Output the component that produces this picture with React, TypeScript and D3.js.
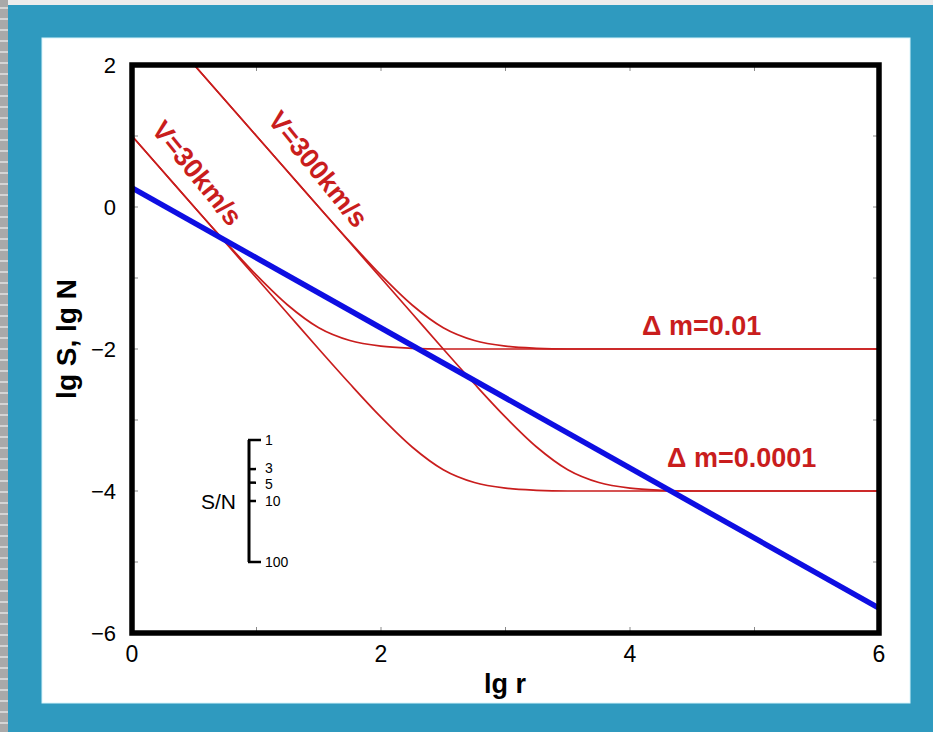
import React, { useEffect, useRef } from "react";
import * as d3 from "d3";

// lg r, lg S
const v30Dm01: [number, number][] = [
  [0, 1.0], [0.25, 0.5], [0.5, 0.0], [0.75, -0.49], [1, -0.96], [1.25, -1.38],
  [1.5, -1.7], [1.75, -1.88], [2, -1.96], [2.25, -1.99], [2.5, -2.0], [6, -2.0],
];
const v30Dm0001: [number, number][] = [
  [0, 1.0], [0.25, 0.5], [0.5, 0.0], [0.75, -0.5], [1, -1.0], [1.25, -1.5],
  [1.5, -2.0], [1.75, -2.49], [2, -2.96], [2.25, -3.38], [2.5, -3.7], [2.75, -3.88],
  [3, -3.96], [3.25, -3.99], [3.5, -4.0], [6, -4.0],
];
const v300Dm01: [number, number][] = [
  [0.5, 2.0], [0.75, 1.5], [1, 1.0], [1.25, 0.5], [1.5, 0.0], [1.75, -0.49],
  [2, -0.96], [2.25, -1.38], [2.5, -1.7], [2.75, -1.88], [3, -1.96], [3.25, -1.99],
  [3.5, -2.0], [6, -2.0],
];
const v300Dm0001: [number, number][] = [
  [0.5, 2.0], [0.75, 1.5], [1, 1.0], [1.25, 0.5], [1.5, 0.0], [1.75, -0.5],
  [2, -1.0], [2.25, -1.5], [2.5, -2.0], [2.75, -2.49], [3, -2.96], [3.25, -3.38],
  [3.5, -3.7], [3.75, -3.88], [4, -3.96], [4.25, -3.99], [4.5, -4.0], [6, -4.0],
];
const noiseLine: [number, number][] = [[0, 0.27], [6, -5.65]];

const xTicks = [0, 2, 4, 6];
const yTicks = [2, 0, -2, -4, -6];
const xMinor = [1, 2, 3, 4, 5];
const yMinor = [1, 0, -1, -2, -3, -4, -5];
const snTicks = [1, 3, 5, 10, 100];

const FONT = "'Liberation Sans', Arial, Helvetica, sans-serif";
const RED = "#c91d1d";

const App = () => {
  const ref = useRef<SVGSVGElement>(null);

  useEffect(() => {
    const svg = d3.select(ref.current);
    svg.selectAll("*").remove();

    // page background
    svg.append("rect").attr("width", 933).attr("height", 732).attr("fill", "#ececec");
    svg.append("rect").attr("x", 0).attr("y", 0).attr("width", 8).attr("height", 732).attr("fill", "#a9a9a9");
    svg
      .append("g")
      .selectAll("line")
      .data(d3.range(8, 732, 11))
      .enter()
      .append("line")
      .attr("x1", 0)
      .attr("x2", 8)
      .attr("y1", (d) => d)
      .attr("y2", (d) => d)
      .attr("stroke", "#ffffff")
      .attr("stroke-width", 1);
    svg.append("rect").attr("x", 8).attr("y", 5).attr("width", 925).attr("height", 727).attr("fill", "#2f9abf");
    svg.append("rect").attr("x", 42).attr("y", 38).attr("width", 868).attr("height", 665).attr("fill", "#ffffff").attr("stroke", "#d8f4fb").attr("stroke-width", 1);

    const x = d3.scaleLinear().domain([0, 6]).range([132, 879]);
    const y = d3.scaleLinear().domain([-6, 2]).range([633, 65]);

    svg
      .append("defs")
      .append("clipPath")
      .attr("id", "plot")
      .append("rect")
      .attr("x", x(0))
      .attr("y", y(2))
      .attr("width", x(6) - x(0))
      .attr("height", y(-6) - y(2));

    // minor inward ticks
    const ticks = svg.append("g").attr("stroke", "#8a8a8a").attr("stroke-width", 1);
    xMinor.forEach((v) => {
      ticks.append("line").attr("x1", x(v)).attr("x2", x(v)).attr("y1", y(-6)).attr("y2", y(-6) - 6);
      ticks.append("line").attr("x1", x(v)).attr("x2", x(v)).attr("y1", y(2)).attr("y2", y(2) + 6);
    });
    yMinor.forEach((v) => {
      ticks.append("line").attr("x1", x(0)).attr("x2", x(0) + 6).attr("y1", y(v)).attr("y2", y(v));
      ticks.append("line").attr("x1", x(6)).attr("x2", x(6) - 6).attr("y1", y(v)).attr("y2", y(v));
    });

    const line = d3
      .line<[number, number]>()
      .x((d) => x(d[0]))
      .y((d) => y(d[1]))
      .curve(d3.curveMonotoneX);

    const curves = svg.append("g").attr("clip-path", "url(#plot)");
    [v30Dm01, v30Dm0001, v300Dm01, v300Dm0001].forEach((c) => {
      curves
        .append("path")
        .attr("d", line(c))
        .attr("fill", "none")
        .attr("stroke", RED)
        .attr("stroke-width", 1.7);
    });
    curves
      .append("path")
      .attr("d", d3.line<[number, number]>().x((d) => x(d[0])).y((d) => y(d[1]))(noiseLine))
      .attr("fill", "none")
      .attr("stroke", "#0e0ee2")
      .attr("stroke-width", 5.5);

    // frame
    svg
      .append("rect")
      .attr("x", x(0))
      .attr("y", y(2))
      .attr("width", x(6) - x(0))
      .attr("height", y(-6) - y(2))
      .attr("fill", "none")
      .attr("stroke", "#000")
      .attr("stroke-width", 5.5);

    // tick labels
    svg
      .append("g")
      .selectAll("text")
      .data(xTicks)
      .enter()
      .append("text")
      .attr("x", (d) => x(d))
      .attr("y", 662)
      .attr("text-anchor", "middle")
      .attr("font-family", FONT)
      .attr("font-size", 23)
      .text((d) => d3.format("d")(d));
    svg
      .append("g")
      .selectAll("text")
      .data(yTicks)
      .enter()
      .append("text")
      .attr("x", 116)
      .attr("y", (d) => y(d) + 8)
      .attr("text-anchor", "end")
      .attr("font-family", FONT)
      .attr("font-size", 22)
      .text((d) => d3.format("d")(d));

    // axis titles
    svg
      .append("text")
      .attr("x", 505)
      .attr("y", 693)
      .attr("text-anchor", "middle")
      .attr("font-family", FONT)
      .attr("font-weight", "bold")
      .attr("font-size", 27)
      .text("lg r");
    svg
      .append("text")
      .attr("transform", "translate(76,339) rotate(-90)")
      .attr("text-anchor", "middle")
      .attr("font-family", FONT)
      .attr("font-weight", "bold")
      .attr("font-size", 28)
      .text("lg S, lg N");

    // curve labels
    const red = svg
      .append("g")
      .attr("fill", RED)
      .attr("font-family", FONT)
      .attr("font-weight", "bold")
      .attr("font-size", 27);
    red.append("text").attr("transform", "translate(190,179) rotate(51)").attr("text-anchor", "middle").text("V=30km/s");
    red.append("text").attr("transform", "translate(311,175) rotate(51)").attr("text-anchor", "middle").text("V=300km/s");
    red.append("text").attr("x", 642).attr("y", 335).text("\u0394 m=0.01");
    red.append("text").attr("x", 667).attr("y", 467).text("\u0394 m=0.0001");

    // S/N scale
    const sn = d3.scaleLog().domain([1, 100]).range([440, 562]);
    const g = svg.append("g").attr("stroke", "#000").attr("stroke-width", 3);
    g.append("line").attr("x1", 249).attr("x2", 249).attr("y1", sn(1)).attr("y2", sn(100));
    snTicks.forEach((v) => {
      const long = v === 1 || v === 100;
      g.append("line")
        .attr("x1", 248)
        .attr("x2", long ? 261 : 256)
        .attr("y1", sn(v))
        .attr("y2", sn(v))
        .attr("stroke-width", 2.5);
    });
    svg
      .append("g")
      .selectAll("text")
      .data(snTicks)
      .enter()
      .append("text")
      .attr("x", 265)
      .attr("y", (d) => sn(d) + 5 + (d === 3 ? -1.5 : d === 5 ? 1.5 : 0))
      .attr("font-family", FONT)
      .attr("font-size", 14)
      .text((d) => d);
    svg
      .append("text")
      .attr("x", 236)
      .attr("y", sn(10) + 8)
      .attr("text-anchor", "end")
      .attr("font-family", FONT)
      .attr("font-size", 21)
      .text("S/N");
  }, []);

  return (
    <svg
      ref={ref}
      width={933}
      height={732}
      style={{ position: "absolute", left: 0, top: 0 }}
    />
  );
};

export default App;
